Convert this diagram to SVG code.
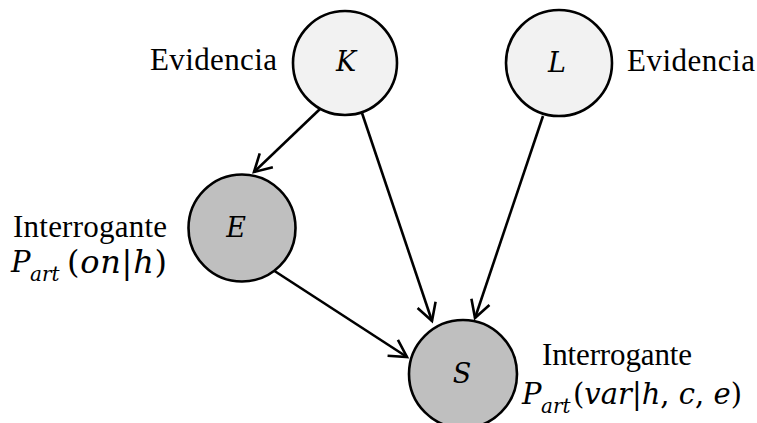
<svg xmlns="http://www.w3.org/2000/svg" width="757" height="423" viewBox="0 0 757 423">
<style>
.node{stroke:#000;stroke-width:2.6}
.ev{fill:#f2f2f2}
.q{fill:#bfbfbf}
.lbl{font-family:'Liberation Serif',serif;font-size:31px;fill:#000}
.var{font-family:'DejaVu Serif',serif;font-style:italic;font-size:27px;fill:#000}
.m{font-family:'DejaVu Serif',serif;font-size:29px;fill:#000}
.big{font-size:32px}
.i{font-style:italic}
.sub{font-family:'DejaVu Serif',serif;font-style:italic;font-size:20px;fill:#000}
.edge{fill:none;stroke:#000;stroke-width:2.6}
</style>
<defs>
<marker id="arr" markerUnits="userSpaceOnUse" markerWidth="30" markerHeight="30" viewBox="-20 -15 30 30" refX="0" refY="0" orient="auto">
<path d="M -17 -9.5 L 0 0 L -17 9.5" fill="none" stroke="#000" stroke-width="2.6" stroke-linejoin="miter"/>
</marker>
</defs>
<rect width="757" height="423" fill="#fff"/>
<g id="connectors">
<line class="edge" x1="320" y1="109" x2="254" y2="172" marker-end="url(#arr)"/>
<line class="edge" x1="362" y1="113" x2="432" y2="321" marker-end="url(#arr)"/>
<line class="edge" x1="543" y1="116" x2="475" y2="318" marker-end="url(#arr)"/>
<line class="edge" x1="273" y1="270" x2="407" y2="357" marker-end="url(#arr)"/>
</g>
<g id="node-K">
<circle class="node ev" cx="345" cy="63" r="52"/>
<text class="var" x="346" y="71" text-anchor="middle">K</text>
<text class="lbl" x="150" y="70" textLength="127" lengthAdjust="spacing">Evidencia</text>
</g>
<g id="node-L">
<circle class="node ev" cx="559" cy="63" r="53"/>
<text class="var" x="557" y="72" text-anchor="middle">L</text>
<text class="lbl" x="627" y="71" textLength="128" lengthAdjust="spacing">Evidencia</text>
</g>
<g id="node-E">
<circle class="node q" cx="242" cy="228" r="53.5"/>
<text class="var" x="236" y="237" text-anchor="middle">E</text>
<text class="lbl" x="13" y="237" textLength="154" lengthAdjust="spacing">Interrogante</text>
<text class="m i" x="11" y="272">P</text>
<text class="sub" x="30" y="281">art</text>
<text class="m big" x="67" y="273" textLength="100" lengthAdjust="spacing">(<tspan class="i">on</tspan>|<tspan class="i">h</tspan>)</text>
</g>
<g id="node-S">
<circle class="node q" cx="463" cy="374" r="54"/>
<text class="var" x="462" y="383" text-anchor="middle">S</text>
<text class="lbl" x="542" y="365" textLength="150" lengthAdjust="spacing">Interrogante</text>
<text class="m i" x="522" y="404">P</text>
<text class="sub" x="541" y="413">art</text>
<text class="m" x="573" y="404" textLength="169" lengthAdjust="spacing">(<tspan class="i">var</tspan>|<tspan class="i">h</tspan>,<tspan class="i"> c</tspan>,<tspan class="i"> e</tspan>)</text>
</g>
</svg>
